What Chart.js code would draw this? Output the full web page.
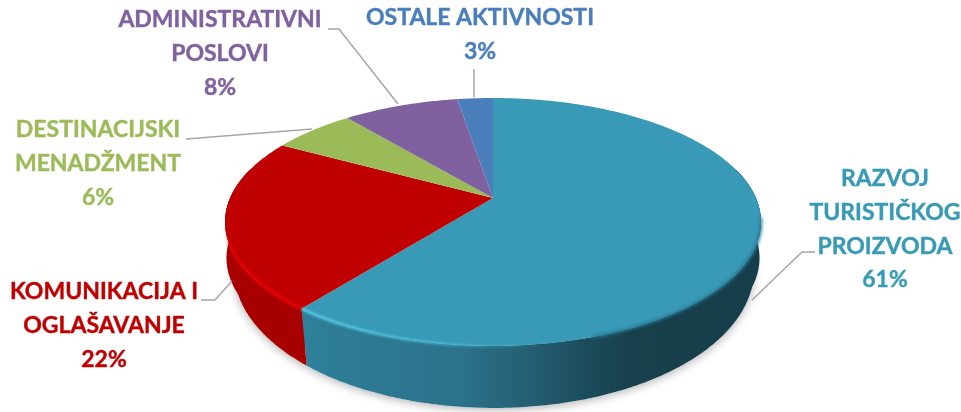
<!DOCTYPE html>
<html>
<head>
<meta charset="utf-8">
<style>
    html, body { margin: 0; padding: 0; background: #fff; }
    canvas { display: block; }
</style>
<script src="https://cdn.jsdelivr.net/npm/chart.js@4"></script>
</head>
<body>
<canvas id="pieChart" width="961" height="412"></canvas>
<script>
'use strict';

const categories = ['RAZVOJ TURISTIČKOG PROIZVODA', 'KOMUNIKACIJA I OGLAŠAVANJE', 'DESTINACIJSKI MENADŽMENT', 'ADMINISTRATIVNI POSLOVI', 'OSTALE AKTIVNOSTI'];
// The labels show them rounded
const shares = [60.6, 22.4, 6, 8.4, 2.6];

const topColors = ['#389ab7', '#c00000', '#9bbb59', '#7f619f', '#4a7ebb'];
const textColors = ['#389ab7', '#c00000', '#9bbb59', '#7f619f', '#4a7ebb'];

// Where each label goes: wrapped lines, centre x, first line y, leader line
const labelLayout = [
    { lines: ['RAZVOJ', 'TURISTIČKOG', 'PROIZVODA'], x: 885, y: 179, leader: [[752, 300], [802, 252], [815, 252]] },
    { lines: ['KOMUNIKACIJA I', 'OGLAŠAVANJE'], x: 104, y: 292, leader: [[232, 281], [215, 300], [201, 300]] },
    { lines: ['DESTINACIJSKI', 'MENADŽMENT'], x: 98, y: 130, leader: [[312, 129], [186, 139]] },
    { lines: ['ADMINISTRATIVNI', 'POSLOVI'], x: 220, y: 20, leader: [[328, 29], [339, 29], [398, 104]] },
    { lines: ['OSTALE AKTIVNOSTI'], x: 480, y: 18, leader: [[474, 69], [474, 97]] },
];
const lineHeight = 33.6;

// Tilted disc: the perspective moves the pie centre above the middle of the ellipse
const topFace = { cx: 493, cy: 198, a: 262.9, b: 119.35, k: 0.1935 };
const midFace = { cx: 493, cy: 234, a: 261.5, b: 119.35, k: 0.1935 };
const baseFace = { cx: 494, cy: 241.9, a: 254.6, b: 132.3, k: 0.2032 };

function project(face, theta) {
    const u = Math.sin(theta), v = -Math.cos(theta);
    const d = 1 - face.k * v;
    return [face.cx + face.a * u / d, face.cy + face.b * v / d];
}

function rimPath(ctx, face, from, to, reverse) {
    const steps = Math.max(2, Math.ceil(Math.abs(to - from) / 0.01));
    for (let i = 0; i <= steps; i++) {
        const t = reverse ? to + (from - to) * i / steps : from + (to - from) * i / steps;
        const p = project(face, t);
        ctx.lineTo(p[0], p[1]);
    }
}

const sideStops = [
    [[0, '#2f809b'], [0.35, '#2b7189'], [0.5, '#245d71'], [0.62, '#1c4c5c'], [0.72, '#173f4c'], [1, '#163e4a']],
    [[0, '#a80000'], [1, '#a50000']],
];

const tiltedPie = {
    id: 'tiltedPie',
    beforeDatasetsDraw(chart) {
        const ctx = chart.ctx;
        const arcs = chart.getDatasetMeta(0).data;
        const slices = arcs.map((arc, i) => ({
            from: arc.startAngle + Math.PI / 2,
            to: arc.endAngle + Math.PI / 2,
            color: chart.data.datasets[0].backgroundColor[i],
        }));

        // Soft shadow under the disc
        ctx.save();
        ctx.shadowColor = 'rgba(0,0,0,0.3)';
        ctx.shadowBlur = 10;
        ctx.shadowOffsetY = 2;
        ctx.fillStyle = '#fff';
        ctx.beginPath();
        rimPath(ctx, baseFace, 0, Math.PI * 2);
        ctx.closePath();
        ctx.fill();
        ctx.restore();

        // Side wall, only the two slices facing the viewer show it
        slices.slice(0, 2).forEach((s, i) => {
            const from = Math.max(s.from, Math.PI * 0.42);
            const to = Math.min(s.to, Math.PI * 1.58);
            const grad = ctx.createLinearGradient(303, 0, 762, 0);
            sideStops[i].forEach(stop => grad.addColorStop(stop[0], stop[1]));
            ctx.fillStyle = grad;
            // Second pass fills the upper wall where it bulges past the base
            [baseFace, midFace].forEach(lower => {
                ctx.beginPath();
                rimPath(ctx, topFace, from, to);
                rimPath(ctx, lower, from, to, true);
                ctx.closePath();
                ctx.fill();
            });
        });

        // Top face
        slices.forEach(s => {
            ctx.fillStyle = s.color;
            ctx.beginPath();
            ctx.moveTo(topFace.cx, topFace.cy);
            rimPath(ctx, topFace, s.from, s.to);
            ctx.closePath();
            ctx.fill();
        });

        // Soft edge on the dark right side, bevel highlight on the front left
        ctx.save();
        ctx.filter = 'blur(1.5px)';
        ctx.lineWidth = 3;
        ctx.strokeStyle = 'rgba(40,120,145,0.9)';
        ctx.beginPath();
        rimPath(ctx, topFace, Math.PI * 0.55, Math.PI * 0.9);
        ctx.stroke();
        ctx.filter = 'blur(1px)';
        const tealGlow = ctx.createLinearGradient(303, 0, 540, 0);
        tealGlow.addColorStop(0, 'rgba(90,205,230,0.95)');
        tealGlow.addColorStop(0.6, 'rgba(90,205,230,0.5)');
        tealGlow.addColorStop(1, 'rgba(90,205,230,0)');
        ctx.strokeStyle = tealGlow;
        ctx.beginPath();
        rimPath(ctx, topFace, slices[0].to, Math.PI * 0.95, true);
        ctx.stroke();
        const redGlow = ctx.createLinearGradient(300, 320, 225, 230);
        redGlow.addColorStop(0, 'rgba(240,0,0,1)');
        redGlow.addColorStop(0.8, 'rgba(240,0,0,0.8)');
        redGlow.addColorStop(1, 'rgba(240,0,0,0)');
        ctx.strokeStyle = redGlow;
        ctx.beginPath();
        rimPath(ctx, topFace, slices[1].from, Math.PI * 1.5);
        ctx.stroke();
        ctx.restore();

        return false;
    },
    afterDraw(chart) {
        const ctx = chart.ctx;
        ctx.save();

        // Leader lines
        ctx.strokeStyle = '#a6a6a6';
        ctx.lineWidth = 1.5;
        labelLayout.forEach(l => {
            ctx.beginPath();
            l.leader.forEach(p => ctx.lineTo(p[0], p[1]));
            ctx.stroke();
        });

        // Labels
        ctx.font = 'bold 23px Lato';
        ctx.textAlign = 'center';
        ctx.textBaseline = 'middle';
        ctx.lineWidth = 0.4;
        labelLayout.forEach((l, i) => {
            ctx.fillStyle = textColors[i];
            ctx.strokeStyle = textColors[i];
            const rows = l.lines.concat(Math.round(shares[i]) + '%');
            rows.forEach((row, r) => {
                ctx.fillText(row, l.x, l.y + r * lineHeight);
                ctx.strokeText(row, l.x, l.y + r * lineHeight);
            });
        });
        ctx.restore();
    },
};

new Chart(document.getElementById('pieChart'), {
    type: 'pie',
    data: {
        labels: categories,
        datasets: [{ data: shares, backgroundColor: topColors, borderWidth: 0 }],
    },
    options: {
        responsive: false,
        animation: false,
        rotation: 0,
        plugins: { legend: { display: false }, tooltip: { enabled: false } },
    },
    plugins: [tiltedPie],
});
</script>
</body>
</html>
